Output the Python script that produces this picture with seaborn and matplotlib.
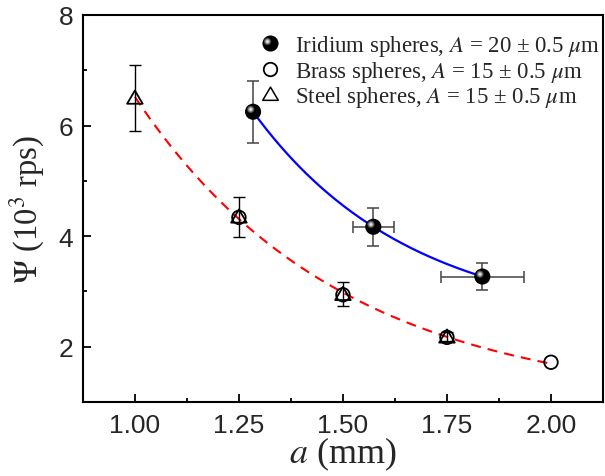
import numpy as np
import matplotlib
matplotlib.use("Agg")
import matplotlib.pyplot as plt
import seaborn as sns
from matplotlib.lines import Line2D
from matplotlib.legend_handler import HandlerBase
from matplotlib.path import Path
from matplotlib.transforms import offset_copy

# ---- measured data -------------------------------------------------------
iridium_a = [1.284, 1.573, 1.835]
iridium_psi = [6.25, 4.17, 3.27]
iridium_psi_err = [0.56, 0.34, 0.25]
iridium_a_err = [0.0, 0.05, 0.10]

brass_a = [1.25, 1.50, 1.75, 2.00]
brass_psi = [4.34, 2.94, 2.17, 1.72]

steel_a = [1.00, 1.25, 1.50, 1.75]
steel_psi = [6.50, 4.35, 2.95, 2.18]
steel_psi_err = [0.59, 0.36, 0.22, 0.08]

x_ticks = [1.00, 1.25, 1.50, 1.75, 2.00]
x_tick_labels = ["1.00", "1.25", "1.50", "1.75", "2.00"]
y_ticks = [2, 4, 6, 8]
y_tick_labels = ["2", "4", "6", "8"]

legend_labels = [
    r"Iridium spheres, $A$ = 20 ± 0.5 $\mu$m",
    r"Brass spheres, $A$ = 15 ± 0.5 $\mu$m",
    r"Steel spheres, $A$ = 15 ± 0.5 $\mu$m",
]

# ---- style ---------------------------------------------------------------
sns.set_theme(style="white")
plt.rcParams["font.family"] = ["Liberation Serif", "DejaVu Serif"]
plt.rcParams["mathtext.fontset"] = "stix"
plt.rcParams["axes.linewidth"] = 1.5


def exp_decay_fit(x, y):
    """Least-squares fit of y = y0 + amp * exp(-x / tau)."""
    x = np.asarray(x, float)
    y = np.asarray(y, float)
    best = None
    for tau in np.linspace(0.05, 3.0, 2951):
        basis = np.column_stack([np.ones_like(x), np.exp(-x / tau)])
        coef = np.linalg.lstsq(basis, y, rcond=None)[0]
        sse = np.sum((basis @ coef - y) ** 2)
        if best is None or sse < best[0]:
            best = (sse, tau, coef)
    _, tau, (y0, amp) = best
    return lambda t: y0 + amp * np.exp(-np.asarray(t) / tau)


fig, ax = plt.subplots(figsize=(6.05, 4.77), dpi=100)
fig.subplots_adjust(left=0.137, right=0.9967, bottom=0.155, top=0.9665)

# ---- fitted curves -------------------------------------------------------
small_fit = exp_decay_fit(steel_a + brass_a, steel_psi + brass_psi)
xs_small = np.linspace(1.0, 2.0, 200)
sns.lineplot(x=xs_small, y=small_fit(xs_small), color="red", lw=1.5,
             linestyle="--", ax=ax, zorder=2)
ax.lines[-1].set_dashes([4.8, 3.4])

big_fit = exp_decay_fit(iridium_a, iridium_psi)
xs_big = np.linspace(min(iridium_a), max(iridium_a), 200)
sns.lineplot(x=xs_big, y=big_fit(xs_big), color="blue", lw=1.6, ax=ax, zorder=2)

# ---- error bars ----------------------------------------------------------
ax.errorbar(steel_a, steel_psi, yerr=steel_psi_err, fmt="none", ecolor="black",
            elinewidth=1.0, capsize=4, capthick=1.0, zorder=3)
ax.errorbar(iridium_a, iridium_psi, yerr=iridium_psi_err, xerr=iridium_a_err,
            fmt="none", ecolor="#444444", elinewidth=1.1, capsize=4,
            capthick=1.1, zorder=3)

# ---- markers -------------------------------------------------------------
tri_path = Path([(-1, -0.75), (1, -0.75), (0, 0.95), (-1, -0.75)],
                [Path.MOVETO, Path.LINETO, Path.LINETO, Path.CLOSEPOLY])

sns.scatterplot(x=brass_a, y=brass_psi, marker="o", s=95, facecolors="none",
                edgecolors="black", linewidth=1.3, ax=ax, zorder=4)
sns.scatterplot(x=steel_a, y=steel_psi, marker=tri_path, s=125,
                facecolors="none", edgecolors="black", linewidth=1.3,
                ax=ax, zorder=4)
sns.scatterplot(x=iridium_a, y=iridium_psi, marker="o", s=135, color="black",
                edgecolor="none", linewidth=0, ax=ax, zorder=5)

# specular highlight on the iridium balls
ball_shine = [(5.2, "#4a4a4a"), (3.8, "#8a8a8a"), (2.4, "#c8c8c8"), (1.1, "#f4f4f4")]
shine_trans = offset_copy(ax.transData, fig=fig, x=-1.7, y=1.7, units="points")
for ms, c in ball_shine:
    ax.scatter(iridium_a, iridium_psi, s=ms ** 2, color=c, edgecolor="none",
               transform=shine_trans, zorder=6)


class BallHandler(HandlerBase):
    def create_artists(self, legend, orig_handle, xdescent, ydescent,
                       width, height, fontsize, trans):
        cx = width / 2 - xdescent
        cy = height / 2 - ydescent
        arts = [Line2D([cx], [cy], marker="o", ms=11.6, mfc="black",
                       mec="none", ls="none", transform=trans)]
        for ms, c in ball_shine:
            arts.append(Line2D([cx - 1.7], [cy + 1.7], marker="o", ms=ms,
                               mfc=c, mec="none", ls="none", transform=trans))
        return arts


ball_handle = Line2D([], [], marker="o", color="black", ls="none")
circle_handle = Line2D([], [], marker="o", ms=9.7, mfc="none", mec="black",
                       mew=1.3, ls="none")
tri_handle = Line2D([], [], marker=tri_path, ms=11.2, mfc="none", mec="black",
                    mew=1.1, ls="none")
ax.legend([ball_handle, circle_handle, tri_handle], legend_labels,
          handler_map={ball_handle: BallHandler()},
          loc="upper right", bbox_to_anchor=(1.019, 0.985), frameon=False,
          fontsize=16.5, handlelength=1.0, handletextpad=0.6,
          labelspacing=0.02, borderaxespad=0.15)

# ---- axes ----------------------------------------------------------------
ax.set_xlim(0.875, 2.125)
ax.set_ylim(1.0, 8.0)
ax.set_xticks(x_ticks, labels=x_tick_labels, fontfamily="Liberation Sans",
              fontsize=19)
ax.set_yticks(y_ticks, labels=y_tick_labels, fontfamily="Liberation Sans",
              fontsize=19)
ax.set_xticks(np.arange(1.125, 2.1, 0.25), minor=True)
ax.set_yticks([3, 5, 7], minor=True)
ax.tick_params(which="both", direction="in", bottom=True, left=True,
               top=False, right=False, color="black", width=1.3)
ax.tick_params(which="major", length=6)
ax.tick_params(axis="x", which="major", pad=8)
ax.tick_params(axis="y", which="major", pad=7)
ax.tick_params(which="minor", length=3)
for s in ax.spines.values():
    s.set_color("black")
    s.set_linewidth(1.5)

ax.set_xlabel(r"$a$ (mm)", fontsize=26, labelpad=-1.5)
ax.set_ylabel(r"$\Psi$ (10$^3$ rps)", fontsize=23.5, labelpad=8)

fig.savefig("out.png", dpi=100)
